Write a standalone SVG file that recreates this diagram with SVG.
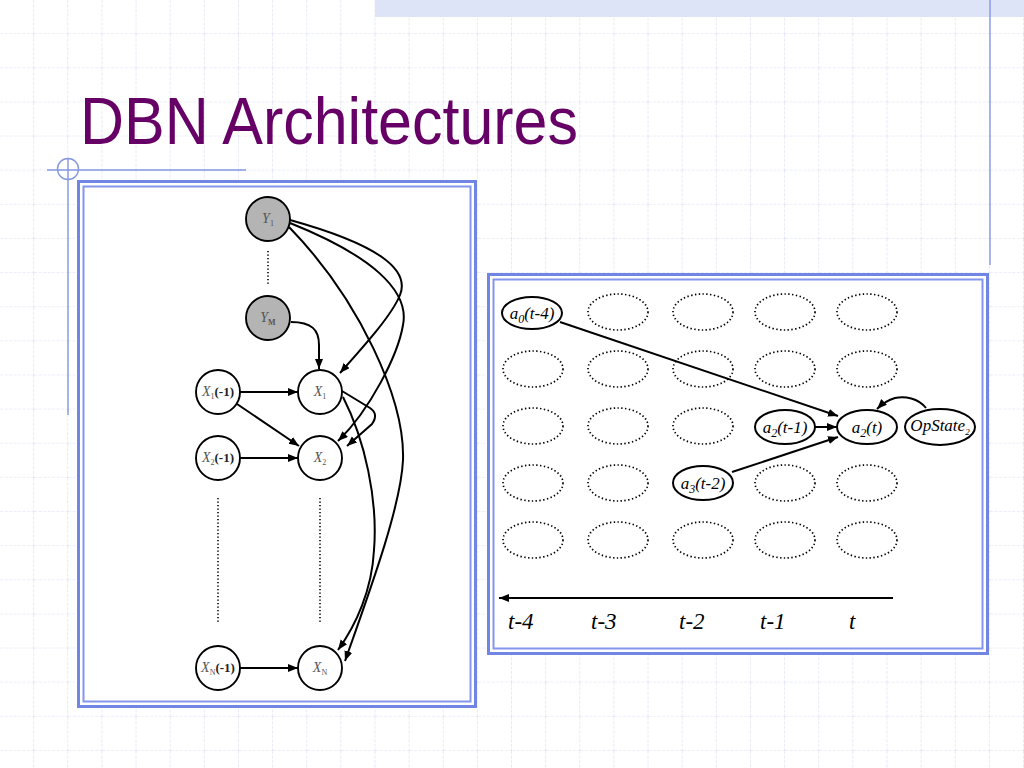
<svg xmlns="http://www.w3.org/2000/svg" width="1024" height="768" viewBox="0 0 1024 768">
<defs>
<pattern id="grid" x="0" y="0" width="34.133" height="34.133" patternUnits="userSpaceOnUse">
<path d="M34.133,0 V34.133 M0,34.133 H34.133" stroke="#d9dcf2" stroke-width="1.2" stroke-dasharray="3,1.5" fill="none"/>
</pattern>
<marker id="arr" markerUnits="userSpaceOnUse" markerWidth="11" markerHeight="9" refX="10" refY="4" orient="auto">
<path d="M0,0 L10,4 L0,8 z" fill="#000"/>
</marker>
<style>
.frameO{fill:#fff;stroke:#7086e2;stroke-width:3}
.frameI{fill:none;stroke:#8496ea;stroke-width:2}
.deco{stroke:#8597e0;stroke-width:1.4;fill:none}
.nd{fill:#fff;stroke:#000;stroke-width:1.9}
.ndg{fill:#b4b4b4;stroke:#000;stroke-width:1.9}
.edge{fill:none;stroke:#000;stroke-width:2;marker-end:url(#arr)}
.dots{fill:none;stroke:#000;stroke-width:1.6;stroke-dasharray:1.2,2.3}
.dotE{fill:none;stroke:#000;stroke-width:1.7;stroke-dasharray:1.4,2.4}
.solE{fill:#fff;stroke:#000;stroke-width:2}
.lbl{font-family:"Liberation Serif",serif;font-style:italic;font-size:14px;fill:#555;text-anchor:middle}
.sub{font-style:normal;font-size:8px}
.lb2{font-family:"Liberation Serif",serif;font-style:italic;font-size:17px;fill:#000;text-anchor:middle}
.ax{font-family:"Liberation Serif",serif;font-style:italic;font-size:23px;fill:#000}
</style>
</defs>
<rect width="1024" height="768" fill="#fff"/>
<rect width="1024" height="768" fill="url(#grid)"/>
<rect x="375" y="0" width="649" height="17" fill="#dde4f8"/>
<line x1="990" y1="0" x2="990" y2="265" class="deco"/>
<line x1="68" y1="158" x2="68" y2="415" class="deco"/>
<line x1="47" y1="170" x2="246" y2="170" class="deco"/>
<circle cx="68" cy="169" r="10.5" class="deco"/>
<text x="80" y="144" font-family="Liberation Sans, Arial, sans-serif" font-size="66" fill="#660066" textLength="498" lengthAdjust="spacingAndGlyphs">DBN Architectures</text>

<!-- Left panel -->
<g id="leftPanel">
<rect x="78.5" y="181.5" width="397" height="525" class="frameO"/>
<rect x="83.5" y="186.5" width="387" height="515" class="frameI"/>
</g>
<g id="leftDots">
<line x1="268" y1="251" x2="268" y2="284" class="dots"/>
<line x1="218" y1="498" x2="218" y2="624" class="dots"/>
<line x1="320" y1="498" x2="320" y2="624" class="dots"/>
</g>
<g id="connectorsLeft">
<path class="edge" d="M291,322 C312,322 319,330 319,345 L319,369"/>
<path class="edge" d="M240,392 L298,392"/>
<path class="edge" d="M237,404 L299,446"/>
<path class="edge" d="M240,458 L298,458"/>
<path class="edge" d="M240,668 L298,668"/>
<path class="edge" d="M290,220 C380,245 410,270 400,295 C392,315 365,345 340,373"/>
<path class="edge" d="M290,223 C370,255 410,290 403,325 C398,355 370,410 338,441"/>
<path class="edge" d="M289,227 C360,300 405,400 403,460 C401,505 372,585 345,661"/>
<path class="edge" d="M342,391 L370,408 Q379,414 372,424 L347,446"/>
<path class="edge" d="M343,397 C365,440 378,500 374,550 C372,590 356,625 338,650"/>
</g>
<g id="Y1"><circle cx="268" cy="219" r="22" class="ndg"/><text x="268" y="223" class="lbl">Y<tspan dy="3" class="sub">1</tspan></text></g>
<g id="YM"><circle cx="268" cy="318" r="22" class="ndg"/><text x="268" y="322" class="lbl">Y<tspan dy="3" class="sub" font-style="italic" font-weight="bold">M</tspan></text></g>
<g id="X1m"><circle cx="218" cy="392" r="22" class="nd"/><text x="218" y="396" class="lbl">X<tspan dy="3" class="sub">1</tspan><tspan dy="-3" font-style="normal" fill="#222" font-weight="bold" font-size="13">(-1)</tspan></text></g>
<g id="X1"><circle cx="320" cy="392" r="22" class="nd"/><text x="320" y="396" class="lbl">X<tspan dy="3" class="sub">1</tspan></text></g>
<g id="X2m"><circle cx="218" cy="458" r="22" class="nd"/><text x="218" y="462" class="lbl">X<tspan dy="3" class="sub">2</tspan><tspan dy="-3" font-style="normal" fill="#222" font-weight="bold" font-size="13">(-1)</tspan></text></g>
<g id="X2"><circle cx="320" cy="458" r="22" class="nd"/><text x="320" y="462" class="lbl">X<tspan dy="3" class="sub">2</tspan></text></g>
<g id="XNm"><circle cx="218" cy="668" r="22" class="nd"/><text x="218" y="672" class="lbl">X<tspan dy="3" class="sub" font-style="italic">N</tspan><tspan dy="-3" font-style="normal" fill="#222" font-weight="bold" font-size="13">(-1)</tspan></text></g>
<g id="XN"><circle cx="320" cy="668" r="22" class="nd"/><text x="320" y="672" class="lbl">X<tspan dy="3" class="sub" font-style="italic">N</tspan></text></g>

<!-- Right panel -->
<g id="rightPanel">
<rect x="488.5" y="274.5" width="499" height="379" class="frameO"/>
<rect x="493.5" y="279.5" width="489" height="369" class="frameI"/>
</g>
<g id="placeholders">
<ellipse cx="618" cy="312" rx="30" ry="18" class="dotE"/>
<ellipse cx="703" cy="312" rx="30" ry="18" class="dotE"/>
<ellipse cx="785" cy="312" rx="30" ry="18" class="dotE"/>
<ellipse cx="867" cy="312" rx="30" ry="18" class="dotE"/>
<ellipse cx="533" cy="369" rx="30" ry="18" class="dotE"/>
<ellipse cx="618" cy="369" rx="30" ry="18" class="dotE"/>
<ellipse cx="703" cy="369" rx="30" ry="18" class="dotE"/>
<ellipse cx="785" cy="369" rx="30" ry="18" class="dotE"/>
<ellipse cx="867" cy="369" rx="30" ry="18" class="dotE"/>
<ellipse cx="533" cy="426" rx="30" ry="18" class="dotE"/>
<ellipse cx="618" cy="426" rx="30" ry="18" class="dotE"/>
<ellipse cx="703" cy="426" rx="30" ry="18" class="dotE"/>
<ellipse cx="533" cy="483" rx="30" ry="18" class="dotE"/>
<ellipse cx="618" cy="483" rx="30" ry="18" class="dotE"/>
<ellipse cx="785" cy="483" rx="30" ry="18" class="dotE"/>
<ellipse cx="867" cy="483" rx="30" ry="18" class="dotE"/>
<ellipse cx="533" cy="540" rx="30" ry="18" class="dotE"/>
<ellipse cx="618" cy="540" rx="30" ry="18" class="dotE"/>
<ellipse cx="703" cy="540" rx="30" ry="18" class="dotE"/>
<ellipse cx="785" cy="540" rx="30" ry="18" class="dotE"/>
<ellipse cx="867" cy="540" rx="30" ry="18" class="dotE"/>
</g>
<g id="connectorsRight">
<path class="edge" d="M560,322 L838,416"/>
<path class="edge" d="M815,427 L837,427"/>
<path class="edge" d="M732,472 L838,437"/>
<path class="edge" d="M926,408 C918,398 905,396 895,398 C888,400 882,404 877,409"/>
<path class="edge" d="M893,598 L499,598"/>
</g>
<g id="a0"><ellipse cx="532" cy="313" rx="30" ry="16" class="solE"/><text x="532" y="319" class="lb2">a<tspan dy="4" font-size="12">0</tspan><tspan dy="-4">(t-4)</tspan></text></g>
<g id="a2m1"><ellipse cx="785" cy="427" rx="30" ry="17" class="solE"/><text x="785" y="433" class="lb2">a<tspan dy="4" font-size="12">2</tspan><tspan dy="-4">(t-1)</tspan></text></g>
<g id="a2t"><ellipse cx="867" cy="427" rx="30" ry="17" class="solE"/><text x="867" y="433" class="lb2">a<tspan dy="4" font-size="12">2</tspan><tspan dy="-4">(t)</tspan></text></g>
<g id="opstate"><ellipse cx="940" cy="427" rx="35" ry="18" class="solE"/><text x="940" y="431" class="lb2" font-size="13">OpState<tspan dy="4" font-size="9">2</tspan></text></g>
<g id="a3"><ellipse cx="703" cy="483" rx="30" ry="17" class="solE"/><text x="703" y="489" class="lb2">a<tspan dy="4" font-size="12">3</tspan><tspan dy="-4">(t-2)</tspan></text></g>
<g id="axisLabels">
<text x="508" y="629" class="ax">t-4</text>
<text x="591" y="629" class="ax">t-3</text>
<text x="679" y="629" class="ax">t-2</text>
<text x="760" y="629" class="ax">t-1</text>
<text x="849" y="629" class="ax">t</text>
</g>
</svg>
